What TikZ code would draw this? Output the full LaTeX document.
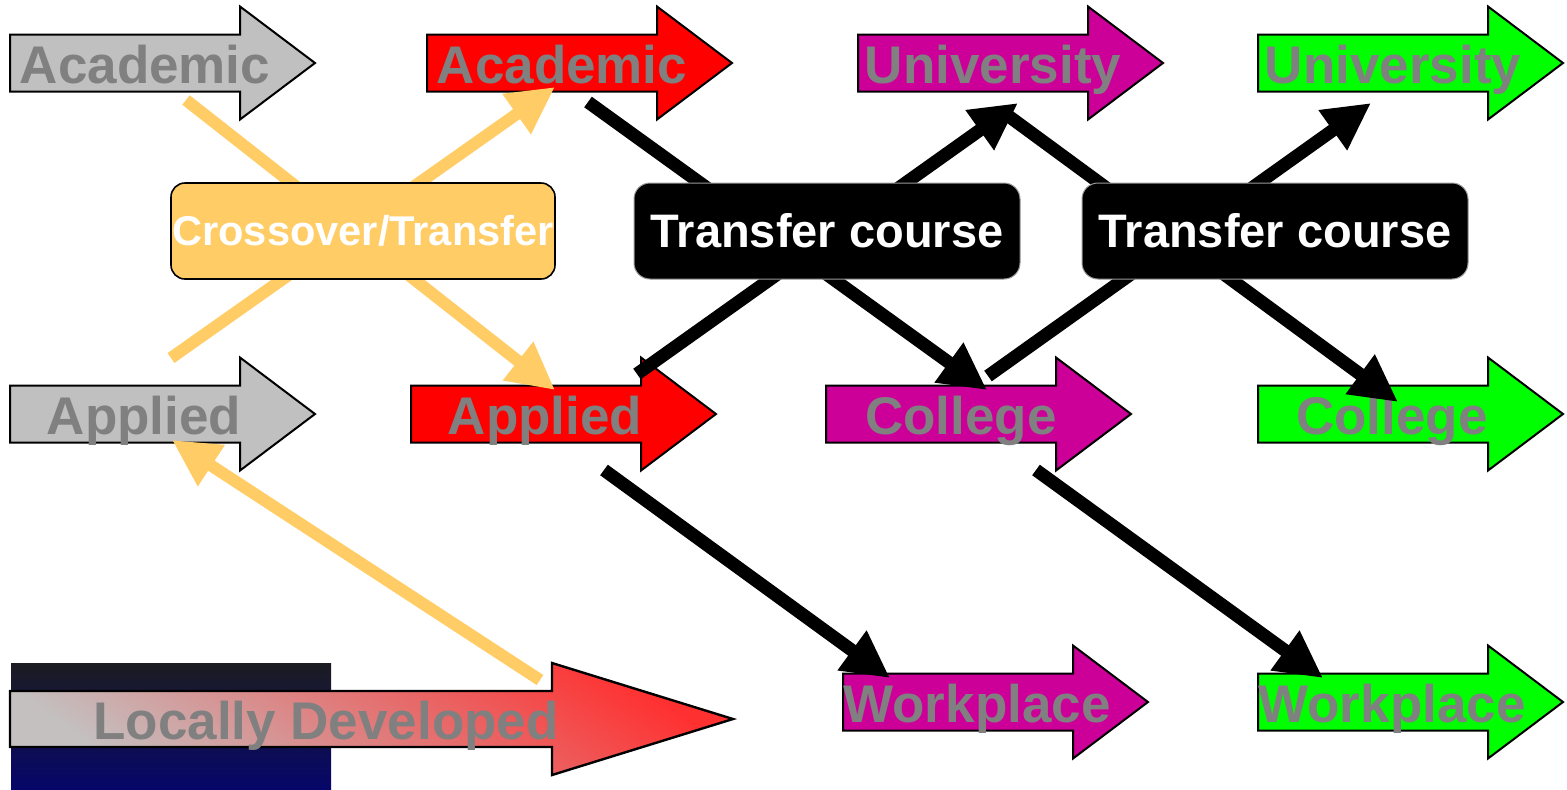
\documentclass[tikz,border=0pt]{standalone}
\usepackage{fontspec}
\setmainfont{Liberation Sans}
\usetikzlibrary{arrows.meta}
\definecolor{agray}{HTML}{C0C0C0}
\definecolor{ared}{HTML}{FF0000}
\definecolor{apurple}{HTML}{CC0099}
\definecolor{agreen}{HTML}{00FF00}
\definecolor{lbl}{HTML}{808080}
\definecolor{xorange}{HTML}{FFCC66}
\definecolor{darktop}{HTML}{1C1C22}
\definecolor{darkbot}{HTML}{06066A}
\definecolor{ldgray}{HTML}{C4C0C0}
\definecolor{ldred}{HTML}{FF3030}
\newcommand\blockarr[3]{%
  \draw[arrshape,fill=#3] (#1,#2-28.5) -- (#1+230,#2-28.5) -- (#1+230,#2-56.5) -- (#1+305,#2) -- (#1+230,#2+56.5) -- (#1+230,#2+28.5) -- (#1,#2+28.5) -- cycle;}
\begin{document}
\begin{tikzpicture}[x=0.5pt,y=-0.5pt,
  arrshape/.style={draw=black,line width=1pt,line join=miter},
  lbltext/.style={text=lbl,font=\fontsize{26.5}{30}\selectfont\bfseries,anchor=base,inner sep=0pt},
  orangeline/.style={draw=xorange,line width=6pt,-{Triangle[length=23.5pt,width=23pt]}},
  blackline/.style={draw=black,line width=6.5pt,-{Triangle[length=23.5pt,width=23pt]}},
  crossbox/.style={draw=black,line width=0.8pt,fill=xorange,rounded corners=7pt,minimum width=192pt,minimum height=48pt,inner sep=0pt,text=white,font=\fontsize{20.8}{24}\selectfont\bfseries},
  transbox/.style={draw=black!40,line width=0.5pt,fill=black,rounded corners=8pt,minimum width=193pt,minimum height=48pt,inner sep=0pt,text=white,font=\fontsize{23.5}{27}\selectfont\bfseries}]
\useasboundingbox[fill=white] (0,0) rectangle (1567,789);
% locally developed background
\shade[top color=darktop,bottom color=darkbot] (11,663) rectangle (331,789);
\draw[line width=1.2pt,line join=miter,shading=axis,top color=ldred,bottom color=ldgray,shading angle=-35]
  (10,691) -- (552,691) -- (552,663) -- (733,719) -- (552,775) -- (552,747) -- (10,747) -- cycle;
% block arrows
\blockarr{10}{63}{agray}
\blockarr{427}{63}{ared}
\blockarr{858}{63}{apurple}
\blockarr{1258}{63}{agreen}
\blockarr{10}{414}{agray}
\blockarr{411}{414}{ared}
\blockarr{826}{414}{apurple}
\blockarr{1258}{414}{agreen}
\blockarr{843}{702}{apurple}
\blockarr{1258}{702}{agreen}
% labels
\node[lbltext] (acadG) at (145,83.5) {Academic};
\node[lbltext] (acadR) at (562,83.5) {Academic};
\node[lbltext] (univP) at (993,83.5) {University};
\node[lbltext] (univG) at (1393,83.5) {University};
\node[lbltext] (applG) at (144,434.5) {Applied};
\node[lbltext] (applR) at (545,434.5) {Applied};
\node[lbltext] (collP) at (961,434.5) {College};
\node[lbltext] (collG) at (1392,434.5) {College};
\node[lbltext] (workP) at (977,722.5) {Workplace};
\node[lbltext] (workG) at (1392,722.5) {Workplace};
\node[lbltext] (local) at (326,739) {Locally Developed};
% connector end points
\coordinate (o1s) at (186,100); \coordinate (o1e) at (555,390);
\coordinate (o2s) at (171,358); \coordinate (o2e) at (555,87);
\coordinate (o3s) at (540,680); \coordinate (o3e) at (172,440);
\coordinate (b1s) at (588,102); \coordinate (b1e) at (987,390);
\coordinate (b2s) at (637,374); \coordinate (b2e) at (1018,103);
\coordinate (b3s) at (1003,112); \coordinate (b3e) at (1398,402);
\coordinate (b4s) at (988,376); \coordinate (b4e) at (1371,103);
\coordinate (b5s) at (604,470); \coordinate (b5e) at (890,678);
\coordinate (b6s) at (1036,470); \coordinate (b6e) at (1323,678);
% connectors
\draw[orangeline] (o1s) -- (o1e);
\draw[orangeline] (o2s) -- (o2e);
\draw[orangeline] (o3s) -- (o3e);
\draw[blackline] (b3s) -- (b3e);
\draw[blackline] (b1s) -- (b1e);
\draw[blackline] (b2s) -- (b2e);
\draw[blackline] (b4s) -- (b4e);
\draw[blackline] (b5s) -- (b5e);
\draw[blackline] (b6s) -- (b6e);
% boxes
\node[crossbox] (cross) at (363,231) {Crossover/Transfer};
\node[transbox] (trans1) at (827,231) {Transfer course};
\node[transbox] (trans2) at (1275,231) {Transfer course};
\end{tikzpicture}
\end{document}
